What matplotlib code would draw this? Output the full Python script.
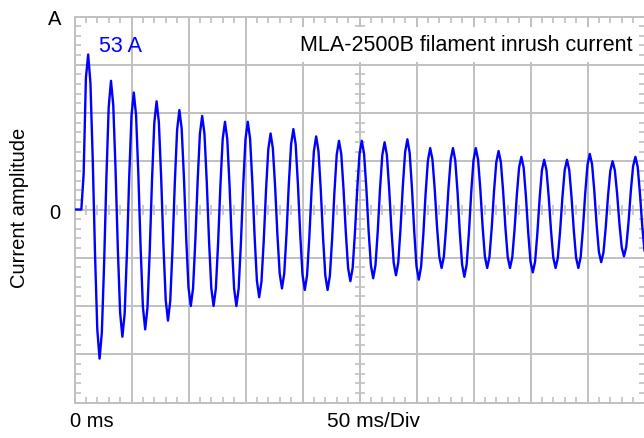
import numpy as np
import matplotlib.pyplot as plt
from matplotlib.ticker import MultipleLocator

# filament current, one sample every 2 ms (amps)
sample_ms = 2.0
current_a = [
    0, 0, 0, 0, 12, 45,
    53, 43.1, 17.1, -15.1, -41.1, -51, -42.0, -18.2, 11.2, 35.0,
    44, 35.7, 13.8, -13.3, -35.2, -43.5, -35.6, -14.7, 11.2, 32.1,
    40, 32.3, 12.1, -13.1, -33.3, -41, -33.6, -14.1, 10.1, 29.6,
    37, 29.9, 11.1, -12.1, -30.9, -38, -31.2, -13.2, 9.2, 27.2,
    34, 27.7, 10.9, -9.9, -26.7, -33, -26.9, -10.6, 9.6, 25.9,
    32, 25.9, 9.6, -10.6, -26.9, -33, -27.0, -11.2, 8.3, 24.1,
    30, 24.1, 8.3, -11.2, -27.0, -33, -27.0, -11.2, 8.3, 24.1,
    30, 24.3, 9.3, -9.3, -24.3, -30, -24.7, -10.7, 6.6, 20.6,
    26, 20.9, 7.7, -8.7, -21.9, -27, -21.8, -8.2, 8.7, 22.3,
    27.5, 22.3, 8.5, -8.5, -22.3, -27.5, -22.5, -9.4, 6.9, 20.0,
    25, 20.0, 6.9, -9.4, -22.5, -27.5, -22.7, -9.9, 5.9, 18.7,
    23.5, 19.0, 6.9, -7.9, -20.0, -24.5, -20.0, -7.9, 6.9, 19.0,
    23.5, 19.1, 7.3, -7.3, -19.1, -23.5, -19.1, -7.5, 7.0, 18.6,
    23, 18.7, 7.3, -6.8, -18.2, -22.5, -18.1, -6.4, 7.9, 19.6,
    24, 19.4, 7.4, -7.4, -19.4, -24, -19.7, -8.5, 5.5, 16.7,
    21, 17.1, 6.9, -5.9, -16.1, -20, -16.1, -5.9, 6.9, 17.1,
    21, 16.8, 5.9, -7.9, -18.8, -23, -18.8, -7.9, 5.9, 16.8,
    21, 17.1, 6.9, -5.9, -16.1, -20, -16.2, -6.2, 6.2, 16.2,
    20, 16.2, 6.2, -6.2, -16.2, -20, -16.4, -6.9, 4.9, 14.4,
    18, 14.3, 4.4, -7.9, -17.8, -21.5, -17.9, -8.2, 3.7, 13.4,
    17, 13.5, 4.2, -7.2, -16.5, -20, -16.5, -7.2, 4.2, 13.5,
    17, 13.5, 4.2, -7.2, -16.5, -20, -16.3, -6.5, 5.5, 15.3,
    19, 15.5, 6.2, -5.2, -14.5, -18, -14.7, -6.1, 4.6, 13.2,
    16.5, 13.4, 5.3, -4.8, -12.9, -16, -12.8, -4.3, 6.3, 14.8,
    18, 14.6, 5.6, -5.6, -14,
]

ms_per_div = 50
amps_per_div = 16.5
n_xdiv, n_ydiv = 10, 8
title = "MLA-2500B filament inrush current"
y_label = "Current amplitude"
x_start_label = "0 ms"
x_scale_label = f"{ms_per_div} ms/Div"

grid_col = "#c0c0c0"
trace_col = "#0000ff"

plt.rcParams["font.family"] = ["Liberation Sans", "DejaVu Sans"]
fs = 14.5

time_ms = np.arange(len(current_a)) * sample_ms

W, H = 644, 439
fig = plt.figure(figsize=(W / 100, H / 100), dpi=100)
ax = fig.add_axes([74.5 / W, 1 - 403.5 / H, (644.5 - 74.5) / W, (403.5 - 17.5) / H])

ax.set_xlim(0, n_xdiv * ms_per_div)
ax.set_ylim(-n_ydiv / 2 * amps_per_div, n_ydiv / 2 * amps_per_div)

ax.xaxis.set_major_locator(MultipleLocator(ms_per_div))
ax.yaxis.set_major_locator(MultipleLocator(amps_per_div))
ax.xaxis.set_minor_locator(MultipleLocator(ms_per_div / 5))
ax.yaxis.set_minor_locator(MultipleLocator(amps_per_div / 5))
ax.grid(True, which="major", color=grid_col, lw=1.4)
ax.set_axisbelow(True)
ax.tick_params(which="major", length=0, labelbottom=False, labelleft=False)
ax.tick_params(which="minor", direction="in", length=4, width=1.2,
               color=grid_col, top=True, right=True)
for sp in ax.spines.values():
    sp.set_color(grid_col)
    sp.set_linewidth(1.4)

# ticks across the two centre lines
xmin_ticks = np.arange(0, n_xdiv * ms_per_div + 1, ms_per_div / 5)
ymin_ticks = np.arange(-n_ydiv / 2 * amps_per_div, n_ydiv / 2 * amps_per_div + 0.1, amps_per_div / 5)
x_mid = n_xdiv / 2 * ms_per_div
ax.plot(xmin_ticks, np.zeros_like(xmin_ticks), ls="none", marker="|", ms=7,
        mew=1.2, color=grid_col, zorder=1, clip_on=False)
ax.plot(np.full_like(ymin_ticks, x_mid), ymin_ticks, ls="none", marker="_", ms=7,
        mew=1.2, color=grid_col, zorder=1, clip_on=False)

ax.plot(time_ms, current_a, color=trace_col, lw=1.7, zorder=3)

peak = max(current_a)
fig.text(99 / W, 1 - 52 / H, f"{peak:.0f} A", color=trace_col, fontsize=15.5,
         va="baseline", ha="left")
fig.text(632 / W, 1 - 51 / H, title, fontsize=15.5, va="baseline", ha="right",
         bbox=dict(facecolor="white", edgecolor="none", pad=5), zorder=5)

fig.text(55 / W, 1 - 25 / H, "A", ha="center", va="baseline", fontsize=fs)
fig.text(55 / W, 1 - 219 / H, "0", ha="center", va="baseline", fontsize=fs)
fig.text(20 / W, 1 - 208 / H, y_label, rotation=90, ha="center", va="center", fontsize=fs)
fig.text(70 / W, 1 - 427 / H, x_start_label, ha="left", va="baseline", fontsize=fs)
fig.text(327 / W, 1 - 427 / H, x_scale_label, ha="left", va="baseline", fontsize=15)

fig.savefig("out.png", dpi=100)
